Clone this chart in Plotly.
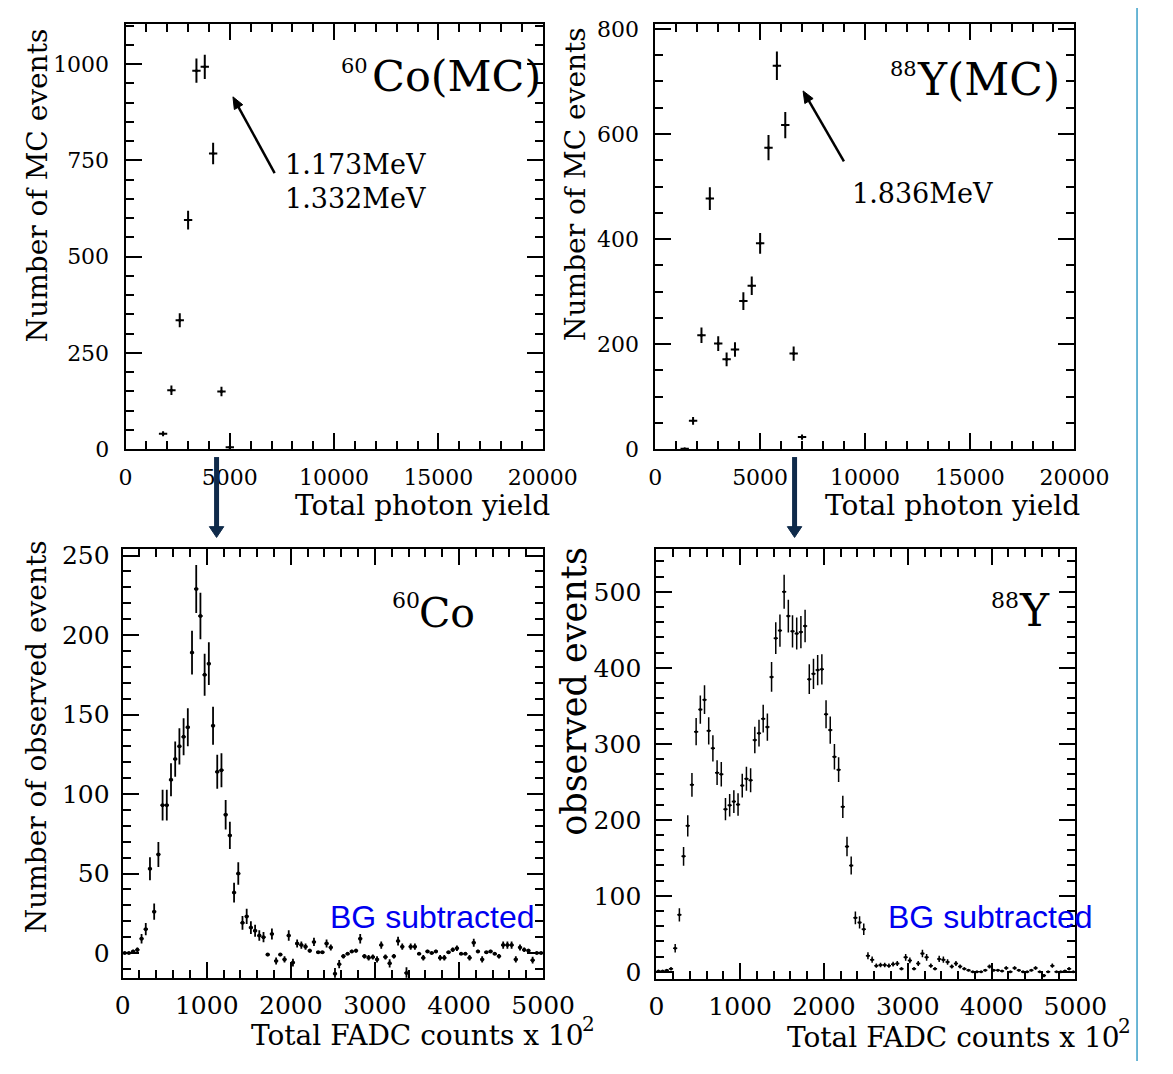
import math
import numpy as np
import plotly.graph_objects as go

W, H = 1173, 1074
SERIF = "DejaVu Serif"
SANS = "Liberation Sans"

# ---------------- data ----------------
# MC spectra (total photon yield), bin centres and counts
co_mc_x = [1800, 2200, 2600, 3000, 3400, 3800, 4200, 4600, 5000]
co_mc_y = [40, 153, 335, 595, 983, 993, 768, 150, 5]

y_mc_x = [1400, 1800, 2200, 2600, 3000, 3400, 3800, 4200, 4600, 5000,
          5400, 5800, 6200, 6600, 7000]
y_mc_y = [1, 54, 217, 477, 201, 171, 190, 282, 311, 392,
          574, 730, 617, 182, 23]

# observed spectra (Total FADC counts x 10^2), 50-wide bins
fadc_bins = list(range(25, 5000, 50))

co_obs = [0, 0, 1, 2, 9, 15, 53, 26, 62, 93,
          93, 109, 122, 130, 136, 142, 189, 229, 212, 175,
          182, 143, 114, 115, 87, 74, 38, 50, 19, 23,
          16, 14, 11, 10,
          -1, 12, -5, -1, -4, 11, -6, 6, 5, 4,
          1.5, 7, 0.5, 0.5, 6, 3.5, -13, -7, -2, -0.5,
          1, 1.5, 9, -2, -3, -2.5, -4, 5, -2.5, -6.5,
          -2, 7.5, 4, -12.5, 4, 4, -0.5, -3, 1, 0,
          1, -3, -3, 0.5, 2, 3, -0.5, -0.5, -3, 6.5,
          1, -4, 0.5, 1, -0.5, -2, 5, 5, 5, -4,
          3.5, 2, 1.5, -4.5, 0, 0]

y_obs = [1, 1, 2, 4, 31, 75, 152, 192, 246, 316,
         345, 358, 317, 294, 262, 260, 214, 219, 224, 220,
         245, 254, 252, 305, 314, 333, 322, 388, 439, 449,
         500, 468, 448, 445, 447, 455, 385, 392, 397, 398,
         339, 318, 283, 266, 217, 165, 140, 71, 65, 56,
         21, 16,
         8, 9, 9, 8, 10, 11, 4, 19, 15, 4,
         11, 24, 19, 8, 4, 17, 16, 13, 7, 11,
         7, 4, 2, 0, 0, 0, 2, 7, 2, 2,
         1, 5, 0, 5, 2, 0, 0, 2, 5, 0,
         -5, 0, 8, 0, 0, 1, 4, 0]

# ---------------- layout geometry (pixels) ----------------
PANELS = {
    1: dict(xpx=(122, 555), ypx=(450, 16), xr=(0, 20000), yr=(0, 1105)),
    2: dict(xpx=(672, 1107), ypx=(450, 16), xr=(0, 20000), yr=(0, 810)),
    3: dict(xpx=(119, 555.5), ypx=(989, 552), xr=(0, 5000), yr=(-15.5, 254)),
    4: dict(xpx=(673, 1108), ypx=(990, 552), xr=(0, 5000), yr=(-9, 556)),
}


def px(x):
    return x / W


def py(y):
    return 1 - y / H


def to_pixel(panel, xv, yv):
    p = PANELS[panel]
    (a0, a1), (b0, b1) = p["xpx"], p["ypx"]
    (r0, r1), (s0, s1) = p["xr"], p["yr"]
    return (a0 + (xv - r0) / (r1 - r0) * (a1 - a0),
            b0 + (yv - s0) / (s1 - s0) * (b1 - b0))


fig = go.Figure()


def add_hist(xs, ys, xa, ya, half, msize, thick):
    ys = np.array(ys, dtype=float)
    fig.add_trace(go.Scatter(
        x=xs, y=ys, xaxis=xa, yaxis=ya, mode="markers",
        marker=dict(size=msize, color="black"),
        error_y=dict(type="data", array=np.sqrt(np.abs(ys)), color="black",
                     thickness=thick, width=0),
        error_x=dict(type="constant", value=half, color="black",
                     thickness=thick, width=0),
        showlegend=False, hoverinfo="skip"))


add_hist(co_mc_x, co_mc_y, "x", "y", 200, 3, 2)
add_hist(y_mc_x, y_mc_y, "x2", "y2", 200, 3, 2)
add_hist(fadc_bins, co_obs, "x3", "y3", 25, 4, 1.8)
add_hist(fadc_bins, y_obs, "x4", "y4", 25, 3, 1.5)


def ax(panel, which, dtick, mdtick, fs, anchor, standoff, mlen=16, nlen=8):
    p = PANELS[panel]
    if which == "x":
        dom = [px(p["xpx"][0]), px(p["xpx"][1])]
        rng = list(p["xr"])
    else:
        dom = [py(p["ypx"][0]), py(p["ypx"][1])]
        rng = list(p["yr"])
    return dict(domain=dom, range=rng, dtick=dtick, tick0=0, anchor=anchor,
                tickformat="d",
                showline=True, linecolor="black", linewidth=2, mirror="allticks",
                ticks="inside", ticklen=mlen, tickwidth=1.5, tickcolor="black",
                showgrid=False, zeroline=False, ticklabelstandoff=standoff,
                tickfont=dict(family=SERIF, size=fs, color="black"),
                minor=dict(dtick=mdtick, ticks="inside", ticklen=nlen,
                           tickwidth=1.5, tickcolor="black", showgrid=False))


fig.update_layout(
    width=W, height=H, margin=dict(l=0, r=0, t=0, b=0),
    paper_bgcolor="white", plot_bgcolor="white", showlegend=False,
    xaxis=ax(1, "x", 5000, 1000, 22, "y", 7),
    yaxis=ax(1, "y", 250, 50, 22, "x", 10),
    xaxis2=ax(2, "x", 5000, 1000, 22, "y2", 7),
    yaxis2=ax(2, "y", 200, 50, 22, "x2", 10),
    xaxis3=ax(3, "x", 1000, 200, 25, "y3", 4),
    yaxis3=ax(3, "y", 50, 10, 25, "x3", 6),
    xaxis4=ax(4, "x", 1000, 200, 25, "y4", 4),
    yaxis4=ax(4, "y", 100, 20, 25, "x4", 8),
)

ann = []


def txt(text, x, y, xref, yref, size, xanchor="left", yanchor="middle",
        family=SERIF, color="black", angle=0):
    ann.append(dict(text=text, x=x, y=y, xref=xref, yref=yref, showarrow=False,
                    xanchor=xanchor, yanchor=yanchor, textangle=angle,
                    font=dict(family=family, size=size, color=color)))


def arrow(tail, tip, color, lw, hl, hw):
    """Arrow between two pixel positions, drawn as paper-space shapes."""
    (sx, sy), (tx, ty) = tail, tip
    d = math.hypot(tx - sx, ty - sy)
    ux, uy = (tx - sx) / d, (ty - sy) / d
    bx, by = tx - ux * hl, ty - uy * hl
    nx, ny = -uy, ux
    fig.add_shape(type="line", xref="paper", yref="paper",
                  x0=px(sx), y0=py(sy), x1=px(bx + ux * 1), y1=py(by + uy * 1),
                  line=dict(color=color, width=lw))
    path = "M {:.5f},{:.5f} L {:.5f},{:.5f} L {:.5f},{:.5f} Z".format(
        px(tx), py(ty), px(bx + nx * hw), py(by + ny * hw),
        px(bx - nx * hw), py(by - ny * hw))
    fig.add_shape(type="path", xref="paper", yref="paper", path=path,
                  fillcolor=color, line=dict(color=color, width=1))


# panel 1
txt("Co(MC)", 11730, 968, "x", "y", 43)
txt("60", 10240, 996, "x", "y", 21)
txt("1.173MeV", 7560, 740, "x", "y", 27)
txt("1.332MeV", 7560, 650, "x", "y", 27)
arrow(to_pixel(1, 7150, 717), to_pixel(1, 5150, 915), "black", 2.5, 12, 5)
# panel 2
txt("Y(MC)", 12390, 703, "x2", "y2", 44)
txt("88", 11090, 724, "x2", "y2", 21)
txt("1.836MeV", 9310, 486, "x2", "y2", 27)
arrow(to_pixel(2, 9000, 548), to_pixel(2, 7050, 682), "black", 2.5, 12, 5)
# panel 3
txt("Co", 3505, 214, "x3", "y3", 41)
txt("60", 3184, 222, "x3", "y3", 22)
txt("BG subtracted", 2439, 22.6, "x3", "y3", 32, family=SANS, color="#0000F0")
# panel 4
txt("Y", 4299, 475, "x4", "y4", 44)
txt("88", 3966, 489, "x4", "y4", 22)
txt("BG subtracted", 2744, 71.7, "x4", "y4", 32, family=SANS, color="#0000F0")

# axis titles (paper coordinates)
txt("Total photon yield", px(565), py(507), "paper", "paper", 28, xanchor="right")
txt("Total photon yield", px(1115), py(507), "paper", "paper", 28, xanchor="right")
txt("Number of MC events", px(31), py(181), "paper", "paper", 28,
    xanchor="center", angle=-90)
txt("Number of MC events", px(589), py(179), "paper", "paper", 28,
    xanchor="center", angle=-90)
txt("Total FADC counts x 10", px(600), py(1048), "paper", "paper", 28,
    xanchor="right")
txt("2", px(594), py(1036), "paper", "paper", 20)
txt("Total FADC counts x 10", px(1156), py(1050), "paper", "paper", 28,
    xanchor="right")
txt("2", px(1150), py(1038), "paper", "paper", 20)
txt("Number of observed events", px(30), py(743), "paper", "paper", 28,
    xanchor="center", angle=-90)
txt("observed events", px(588), py(697), "paper", "paper", 35,
    xanchor="center", angle=-90)

# navy arrows linking MC panels to data panels
for xa in (216.5, 816.5):
    arrow((xa, 458), (xa, 540), "#0f2a4a", 5, 11, 7.5)

fig.update_layout(annotations=ann)

fig.add_shape(type="line", xref="paper", yref="paper", x0=px(1172), x1=px(1172),
              y0=0, y1=1, line=dict(color="#3a9fc8", width=1.5))

fig.write_html("out.html")
